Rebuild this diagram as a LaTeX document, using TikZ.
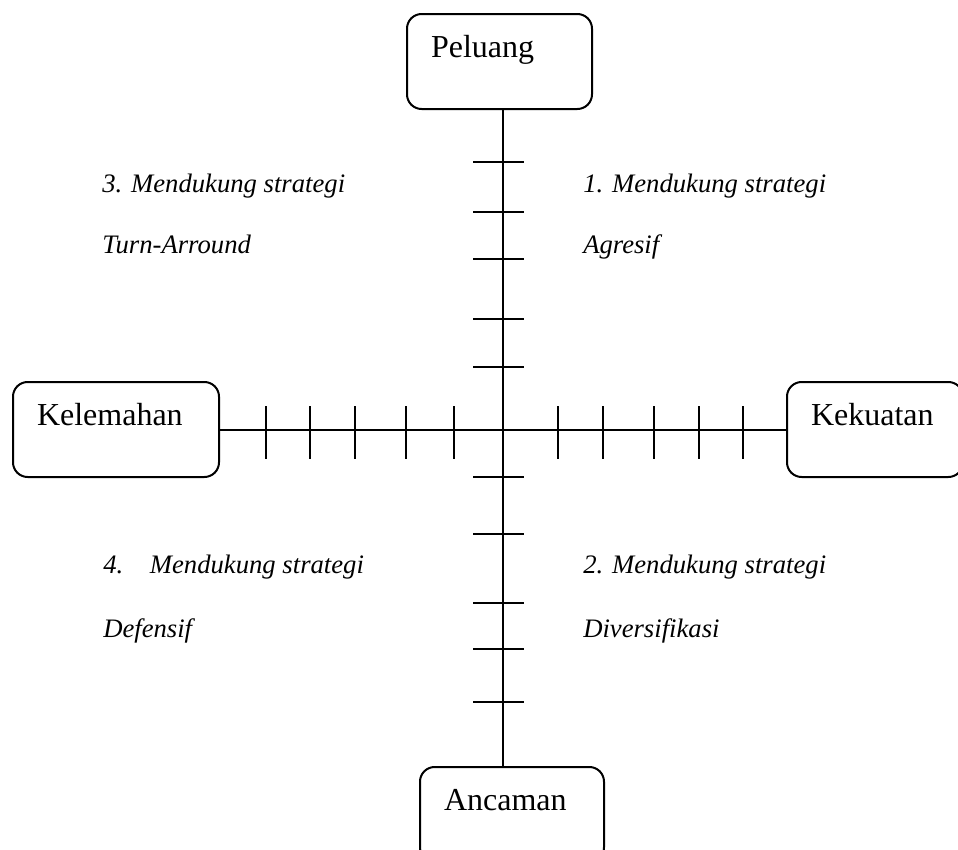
\documentclass[tikz,border=0pt]{standalone}
\usepackage{fontspec}
\setmainfont{Liberation Serif}
\begin{document}
\begin{tikzpicture}[x=0.75pt,y=-0.75pt,
  kotak/.style={draw,line width=1.5pt,rounded corners=11pt,anchor=north west,
    align=left,inner xsep=18pt,inner ysep=0pt,text height=32.25pt,text depth=39pt,
    font=\fontsize{24}{28}\selectfont},
  strategi/.style={anchor=base west,inner sep=0pt,font=\fontsize{20}{24}\selectfont\itshape}]
	\useasboundingbox (0,0) rectangle (958,850);
	\clip (0,0) rectangle (958,850);
	\node[kotak,text width=102.75pt] (peluang) at (406,13) {Peluang};
	\node[kotak,text width=118.5pt] (kelemahan) at (12,381) {Kelemahan};
	\node[kotak,text width=96pt] (kekuatan) at (786,381) {Kekuatan};
	\node[kotak,text width=102pt] (ancaman) at (419,766) {Ancaman};
	\coordinate (o) at (503,428);
	\draw[line width=1.5pt] (o |- peluang.south) -- (o |- ancaman.north);
	\draw[line width=1.5pt] (kelemahan.east) -- (kekuatan.west);
	\foreach \y in {162,212,259,319,367,477,534,603,649,702}
	  \draw[line width=1.5pt] (473,\y) -- (524,\y);
	\foreach \x in {266,310,355,406,454,558,603,654,699,743}
	  \draw[line width=1.5pt] (\x,406) -- (\x,459);
	\node[strategi] (s3) at (102,192) {3. Mendukung strategi};
	\node[strategi] (s3b) at (102,253) {Turn-Arround};
	\node[strategi] (s1) at (583,192) {1. Mendukung strategi};
	\node[strategi] (s1b) at (583,253) {Agresif};
	\node[strategi] (s4) at (103,573) {4.\hspace{20pt}Mendukung strategi};
	\node[strategi] (s4b) at (103,637) {Defensif};
	\node[strategi] (s2) at (583,573) {2. Mendukung strategi};
	\node[strategi] (s2b) at (583,637) {Diversifikasi};
\end{tikzpicture}
\end{document}
